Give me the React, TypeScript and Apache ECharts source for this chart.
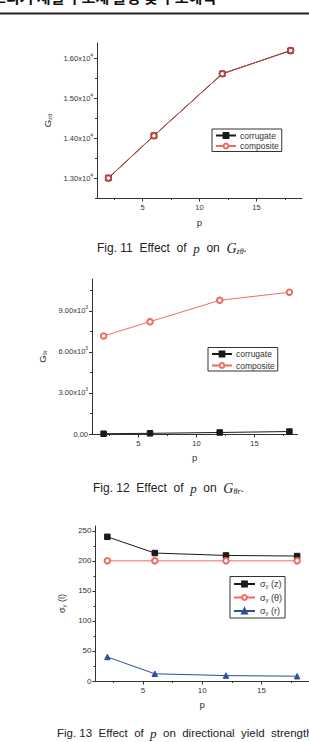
import React, { useEffect, useRef } from 'react';
import * as echarts from 'echarts';

const P = [2, 6, 12, 18];
const gZThetaCorrugate = [13000, 14060, 15610, 16190];
const gZThetaComposite = [13000, 14060, 15610, 16190];
const gThetaRCorrugate = [20, 50, 110, 180];
const gThetaRComposite = [7170, 8220, 9780, 10370];
const sigmaZ = [240, 213, 209, 208];
const sigmaTheta = [200, 200, 200, 200];
const sigmaR = [40, 12, 9, 8];

const xMajor = [5, 10, 15];
const xMinor = [2.5, 7.5, 12.5, 17.5];
const y1Major = [13000, 14000, 15000, 16000];
const y1Minor = [12500, 13500, 14500, 15500];
const y2Major = [0, 3000, 6000, 9000];
const y2Minor = [1500, 4500, 7500, 10500];
const y3Major = [0, 50, 100, 150, 200, 250];
const y3Minor = [25, 75, 125, 175, 225];

const sigmaNames = ['σy (z)', 'σy (θ)', 'σy (r)'];

const FONT = '"Liberation Sans", Arial, sans-serif';
const SERIF = '"Liberation Serif", "DejaVu Serif", serif';
const AX = '#333';
const BLACK = '#1a1a1a';
const RED1 = '#c0463a';
const RED2 = '#ef6a62';
const BLUE = '#2c4f9e';

const supRich = (fs: number) => ({
  m: { fontSize: fs, color: AX, fontFamily: FONT },
  s: { fontSize: fs * 0.65, color: AX, fontFamily: FONT, padding: [0, 0, 6, 0] },
});

function xAxes(grid: number, max: number, fs: number, nameGap: number) {
  return [
    {
      type: 'value', gridIndex: grid, position: 'bottom', min: 1, max,
      axisLine: { show: true, onZero: false, lineStyle: { color: AX, width: 1 } },
      axisTick: { show: true, customValues: xMajor, length: 3.5, lineStyle: { color: AX } },
      axisLabel: { customValues: xMajor, fontSize: fs, color: AX, fontFamily: FONT, margin: 5 },
      splitLine: { show: false },
      name: 'p', nameLocation: 'middle', nameGap,
      nameTextStyle: { fontSize: 9.5, color: AX, fontFamily: FONT },
    },
    {
      type: 'value', gridIndex: grid, position: 'bottom', min: 1, max,
      axisLine: { show: false, onZero: false },
      axisTick: { show: true, customValues: xMinor, length: 2, lineStyle: { color: AX } },
      axisLabel: { show: false },
      splitLine: { show: false },
    },
  ];
}

function yAxes(grid: number, min: number, max: number, major: number[], minor: number[], fs: number, formatter: any, rich: any, name: string, nameGap: number, nameRich: any) {
  return [
    {
      type: 'value', gridIndex: grid, position: 'left', min, max,
      axisLine: { show: true, onZero: false, lineStyle: { color: AX, width: 1 } },
      axisTick: { show: true, customValues: major, length: 3, lineStyle: { color: AX } },
      axisLabel: { customValues: major, fontSize: fs, color: AX, fontFamily: FONT, margin: 4, formatter, rich },
      splitLine: { show: false },
      name, nameLocation: 'middle', nameGap,
      nameTextStyle: { fontSize: 9, color: AX, fontFamily: FONT, rich: nameRich },
    },
    {
      type: 'value', gridIndex: grid, position: 'left', min, max,
      axisLine: { show: false, onZero: false },
      axisTick: { show: true, customValues: minor, length: 2, lineStyle: { color: AX } },
      axisLabel: { show: false },
      splitLine: { show: false },
    },
  ];
}

function lineSeries(name: string, axis: number, values: number[], color: string, symbol: string) {
  return {
    type: 'line', name, xAxisIndex: axis, yAxisIndex: axis,
    data: P.map((p, i) => [p, values[i]]),
    symbol, symbolSize: 5.5, showSymbol: true,
    lineStyle: { color, width: 1 },
    itemStyle: { color, borderColor: color, borderWidth: 1 },
    emphasis: { disabled: true },
  };
}

const legendBase = {
  orient: 'vertical', borderColor: '#333', borderWidth: 1, borderRadius: 0,
  itemWidth: 20, itemHeight: 6, selectedMode: false,
};

const captionRich = {
  t: { fontSize: 12, fontFamily: FONT, fill: '#222' },
  i: { fontSize: 13, fontFamily: SERIF, fontStyle: 'italic', fill: '#222' },
  g: { fontSize: 14, fontFamily: SERIF, fontStyle: 'italic', fill: '#222' },
  sub: { fontSize: 8, fontFamily: SERIF, fontStyle: 'italic', fill: '#222', padding: [6, 0, 0, 0] },
};

export default function App() {
  const ref = useRef<HTMLDivElement>(null);
  useEffect(() => {
    if (!ref.current) return;
    const chart = echarts.init(ref.current, null, { renderer: 'svg' });
    const nameRichG = {
      g: { fontSize: 9.5, color: AX, fontFamily: FONT },
      s: { fontSize: 6, color: AX, fontFamily: FONT, padding: [4, 0, 0, 0] },
    };
    const legendData = [
      { name: 'corrugate', lineStyle: { color: BLACK }, itemStyle: { color: BLACK } },
      { name: 'composite', lineStyle: { color: RED2 }, itemStyle: { color: RED2, borderColor: RED2 } },
    ];
    const option: any = {
      animation: false,
      backgroundColor: '#fff',
      grid: [
        { left: 97, top: 43, width: 205, height: 155 },
        { left: 92, top: 279, width: 205.5, height: 155 },
        { left: 95.5, top: 526, width: 218, height: 155 },
      ],
      xAxis: [...xAxes(0, 19, 7.5, 19), ...xAxes(1, 18.7, 7.5, 18), ...xAxes(2, 19, 8, 18)],
      yAxis: [
        ...yAxes(0, 12500, 16380, y1Major, y1Minor, 7.5,
          (v: number) => `{m|${(v / 1e4).toFixed(2)}x10}{s|4}`, supRich(7.5),
          '{g|G}{s|zθ}', 41, nameRichG),
        ...yAxes(1, 0, 11340, y2Major, y2Minor, 7.5,
          (v: number) => (v === 0 ? '{m|0.00}' : `{m|${(v / 1e3).toFixed(2)}x10}{s|3}`), supRich(7.5),
          '{g|G}{s|θr}', 37, nameRichG),
        ...yAxes(2, 0, 258, y3Major, y3Minor, 8, (v: number) => String(v), undefined,
          '{g|σ}{s|y}{g| (l)}', 18, {
            g: { fontSize: 9, color: AX, fontFamily: FONT },
            s: { fontSize: 6, color: AX, fontFamily: FONT, padding: [4, 0, 0, 0] },
          }),
      ],
      legend: [
        { ...legendBase, left: 212, top: 129, padding: [2, 3, 1, 3], itemGap: 1.5,
          data: legendData,
          textStyle: { fontSize: 8.5, color: AX, fontFamily: FONT, padding: [0, 0, 0, -1] } },
        { ...legendBase, left: 208, top: 347.5, padding: [2, 3, 1, 3], itemGap: 2.5,
          data: legendData,
          textStyle: { fontSize: 8.5, color: AX, fontFamily: FONT, padding: [0, 0, 0, -1] } },
        { ...legendBase, left: 230, top: 576.5, padding: [3, 3, 2, 3], itemGap: 4, itemWidth: 21,
          data: sigmaNames,
          formatter: (n: string) => `{a|σ}{s|y}{a|${n.slice(2)}}`,
          textStyle: {
            fontSize: 9, color: AX, fontFamily: FONT,
            rich: {
              a: { fontSize: 9, color: AX, fontFamily: FONT },
              s: { fontSize: 6, color: AX, fontFamily: FONT, padding: [4, 0, 0, 0] },
            },
          } },
      ],
      series: [
        lineSeries('corrugate', 0, gZThetaCorrugate, BLACK, 'rect'),
        lineSeries('composite', 0, gZThetaComposite, RED1, 'emptyCircle'),
        lineSeries('corrugate', 2, gThetaRCorrugate, BLACK, 'rect'),
        lineSeries('composite', 2, gThetaRComposite, RED2, 'emptyCircle'),
        lineSeries(sigmaNames[0], 4, sigmaZ, BLACK, 'rect'),
        lineSeries(sigmaNames[1], 4, sigmaTheta, RED2, 'emptyCircle'),
        lineSeries(sigmaNames[2], 4, sigmaR, BLUE, 'triangle'),
      ],
      graphic: [
        {
          type: 'text', left: -8, top: -11,
          style: { text: '드리거 재질 구조체 물성 및 구조해석', fontSize: 15, fontWeight: 'bold', fontFamily: '"Noto Sans CJK KR", sans-serif', fill: '#111' },
        },
        { type: 'line', shape: { x1: 0, y1: 13.5, x2: 309, y2: 13.5 }, style: { stroke: '#222', lineWidth: 2 } },
        {
          type: 'text', x: 97, y: 248,
          style: { text: '{t|Fig. 11  Effect  of  }{i|p}{t|  on  }{g|G}{sub|zθ}{t|.}', verticalAlign: 'middle', rich: captionRich },
        },
        {
          type: 'text', x: 93, y: 488,
          style: { text: '{t|Fig. 12  Effect  of  }{i|p}{t|  on  }{g|G}{sub|θr}{t|.}', verticalAlign: 'middle', rich: captionRich },
        },
        {
          type: 'text', x: 57, y: 733,
          style: {
            text: '{t|Fig. 13  Effect  of  }{i|p}{t|  on  directional  yield  strength}',
            verticalAlign: 'middle',
            rich: { t: { fontSize: 11.5, fontFamily: FONT, fill: '#222' }, i: captionRich.i },
          },
        },
      ],
    };
    chart.setOption(option);
    return () => chart.dispose();
  }, []);
  return <div ref={ref} style={{ position: 'absolute', left: 0, top: 0, width: 309, height: 742, background: '#fff' }} />;
}
